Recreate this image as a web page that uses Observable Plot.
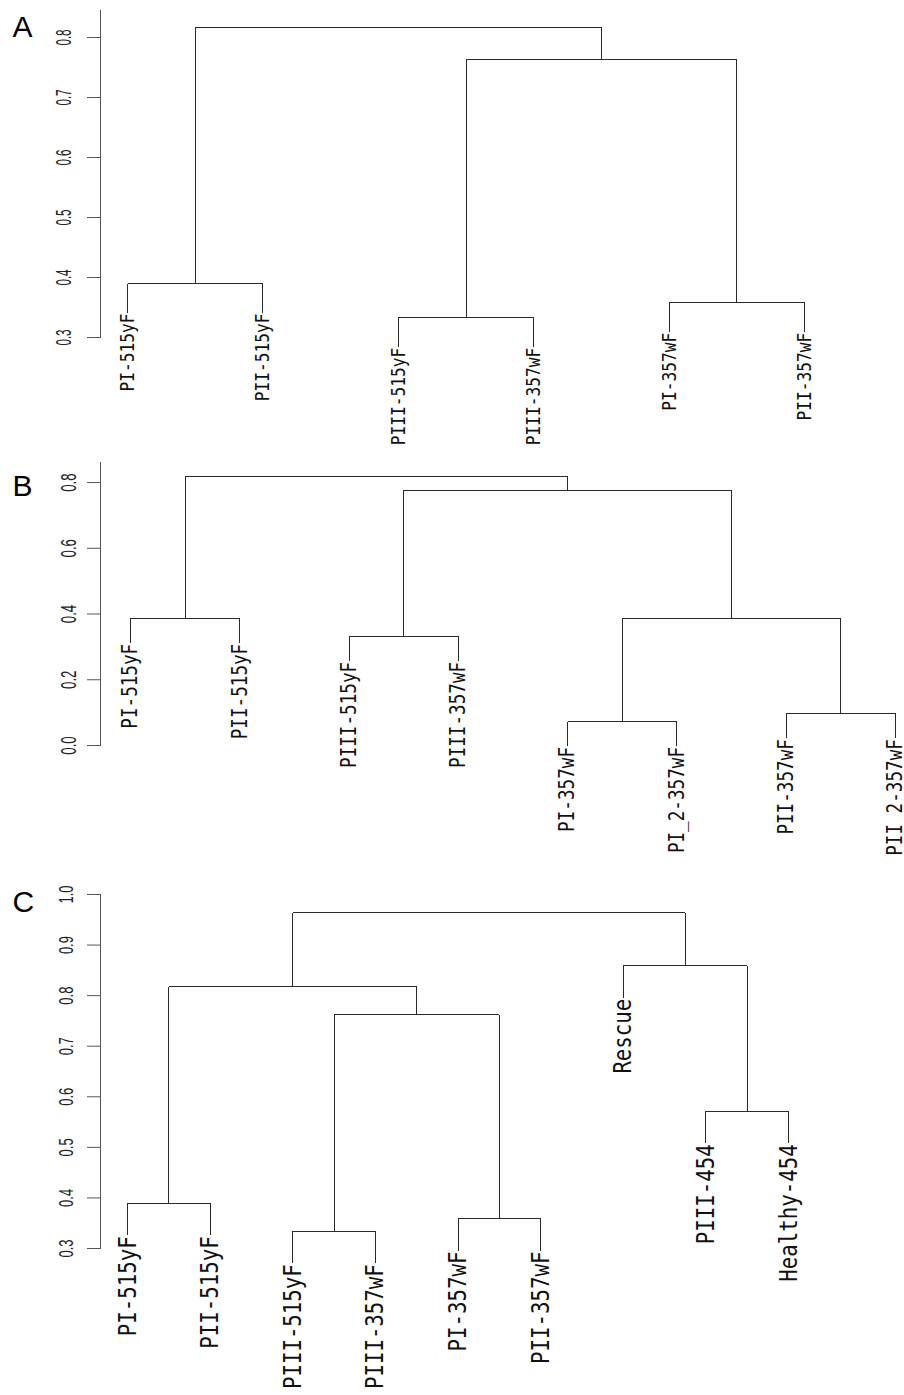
<!DOCTYPE html>
<html><head><meta charset="utf-8">
<script src="https://cdn.jsdelivr.net/npm/d3@7"></script>
<script src="https://cdn.jsdelivr.net/npm/@observablehq/plot@0.6"></script>
<style>
body{margin:0;background:#fff}
#root{position:relative;width:904px;height:1395px;overflow:hidden}
.panel{position:absolute;left:0}
</style>
</head><body><div id="root"></div>
<script>
// ---- Panel A ----
const labelsA = ["PI-515yF","PII-515yF","PIII-515yF","PIII-357wF","PI-357wF","PII-357wF"];
const mergeA  = [[-3,-4],[-5,-6],[-1,-2],[1,2],[3,4]];
const heightA = [0.333,0.358,0.390,0.763,0.817];
const ticksA  = [0.3,0.4,0.5,0.6,0.7,0.8];

// ---- Panel B ----
const labelsB = ["PI-515yF","PII-515yF","PIII-515yF","PIII-357wF","PI-357wF","PI_2-357wF","PII-357wF","PII_2-357wF"];
const mergeB  = [[-5,-6],[-7,-8],[-3,-4],[1,2],[-1,-2],[3,4],[5,6]];
const heightB = [0.073,0.097,0.332,0.385,0.387,0.776,0.818];
const ticksB  = [0.0,0.2,0.4,0.6,0.8];

// ---- Panel C ----
const labelsC = ["PI-515yF","PII-515yF","PIII-515yF","PIII-357wF","PI-357wF","PII-357wF","Rescue","PIII-454","Healthy-454"];
const mergeC  = [[-3,-4],[-5,-6],[-1,-2],[-8,-9],[1,2],[3,5],[-7,4],[6,7]];
const heightC = [0.334,0.359,0.389,0.571,0.762,0.818,0.859,0.964];
const ticksC  = [0.3,0.4,0.5,0.6,0.7,0.8,0.9,1.0];

const panelLetters = ["A","B","C"];

function buildTree(labels, merge, heights) {
  const hang = 0.1 * (d3.max(heights) - d3.min(heights));
  const nodes = [], segs = [], leaves = [];
  const info = r => r < 0 ? {x: -r, leaf: -r} : nodes[r - 1];
  merge.forEach(([a, b], k) => {
    const h = heights[k];
    const A = info(a), B = info(b);
    for (const c of [A, B]) {
      const yEnd = c.leaf ? h - hang : c.h;
      segs.push({x1: c.x, y1: h, x2: c.x, y2: yEnd});
      if (c.leaf) leaves.push({x: c.x, y: h - hang, label: labels[c.leaf - 1]});
    }
    segs.push({x1: A.x, y1: h, x2: B.x, y2: h});
    nodes.push({x: (A.x + B.x) / 2, h});
  });
  return {segs, leaves};
}

function squeeze(svg, tag, s) {
  d3.select(svg).selectAll(`[aria-description="${tag}"]`).each(function() {
    const els = this.tagName.toLowerCase() === "text" ? [this] : Array.from(this.querySelectorAll("text"));
    for (const el of els) {
      el.setAttribute("transform", (el.getAttribute("transform") || "") + ` scale(${s},1)`);
    }
  });
}

function panel(cfg) {
  const {labels, merge, heights, ticks, letter} = cfg;
  const {segs, leaves} = buildTree(labels, merge, heights);
  const svg = Plot.plot({
    width: 904, height: cfg.H,
    marginLeft: 100, marginRight: 0, marginTop: cfg.mt, marginBottom: cfg.mb,
    x: {domain: [1, labels.length], range: cfg.xr, axis: null},
    y: {domain: cfg.yd},
    marks: [
      Plot.frame({anchor: "left", stroke: "#555"}),
      Plot.axisY({ticks, anchor: "left", tickSize: 13, tickPadding: 0, tickFormat: () => "", label: null, stroke: "#555"}),
      Plot.text(ticks, {y: d => d, text: d => d.toFixed(1), frameAnchor: "left", dx: cfg.tdx,
        rotate: -90, textAnchor: "middle", lineAnchor: "bottom", fontSize: cfg.tfs,
        fontFamily: "Liberation Sans, Arial, sans-serif", fill: "#222", ariaDescription: "ticklabel"}),
      Plot.link(segs, {x1: "x1", y1: "y1", x2: "x2", y2: "y2", stroke: "#2a2a2a", strokeWidth: 1, shapeRendering: "crispEdges"}),
      Plot.text(leaves, {x: "x", y: "y", text: "label", rotate: -90, textAnchor: "end", lineAnchor: "middle",
        dy: 1, fontSize: cfg.lfs, fontFamily: "DejaVu Sans Mono, monospace", fill: "#111", ariaDescription: "leaflabel"}),
      Plot.text([letter], {text: d => d, frameAnchor: "top-left", dx: -88, dy: cfg.ldy, textAnchor: "start",
        lineAnchor: "bottom", fontSize: 30, fontFamily: "Liberation Sans, Arial, sans-serif", fill: "#000"})
    ]
  });
  squeeze(svg, "ticklabel", cfg.ts);
  squeeze(svg, "leaflabel", cfg.ls);
  const div = document.createElement("div");
  div.className = "panel";
  div.style.top = cfg.top + "px";
  div.appendChild(svg);
  document.getElementById("root").appendChild(div);
}

panel({labels: labelsA, merge: mergeA, heights: heightA, ticks: ticksA, letter: panelLetters[0],
  top: 0, H: 450, mt: 10, mb: 113, yd: [0.3, 0.845], xr: [127, 804],
  tdx: -30, tfs: 22, ts: 0.53, lfs: 20, ls: 0.81, ldy: 26});
panel({labels: labelsB, merge: mergeB, heights: heightB, ticks: ticksB, letter: panelLetters[1],
  top: 450, H: 420, mt: 12, mb: 125, yd: [0, 0.861], xr: [130, 895],
  tdx: -25, tfs: 22, ts: 0.6, lfs: 21, ls: 0.84, ldy: 33});
panel({labels: labelsC, merge: mergeC, heights: heightC, ticks: ticksC, letter: panelLetters[2],
  top: 870, H: 525, mt: 24, mb: 147, yd: [0.3, 1.0], xr: [127, 788],
  tdx: -28, tfs: 20, ts: 0.65, lfs: 25, ls: 0.83, ldy: 17});
</script>
</body></html>
